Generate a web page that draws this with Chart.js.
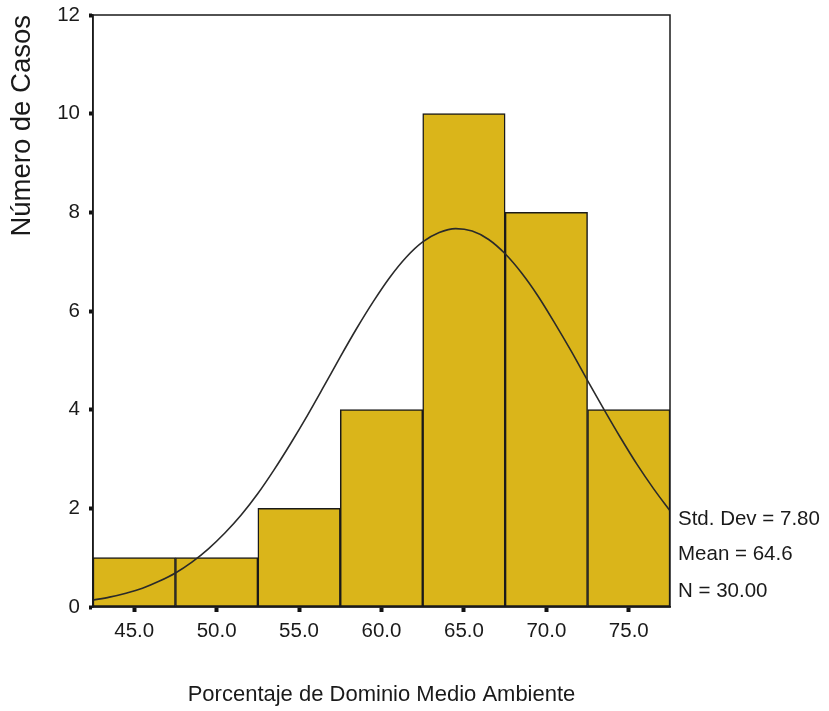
<!DOCTYPE html>
<html lang="es">
<head>
<meta charset="utf-8">
<title>Histograma - Porcentaje de Dominio Medio Ambiente</title>
<script src="https://cdn.jsdelivr.net/npm/chart.js@4.4.1/dist/chart.umd.min.js"></script>
<style>
    html, body { margin: 0; padding: 0; background: #fff; }
    #chart { display: block; }
</style>
</head>
<body>
<canvas id="chart" width="829" height="711"></canvas>
<script>
// datos del histograma (centros de clase y número de casos)
const binCenters = [45, 50, 55, 60, 65, 70, 75];
const binCounts = [1, 1, 2, 4, 10, 8, 4];
const xTickValues = [45, 50, 55, 60, 65, 70, 75];
const xTickLabels = ['45.0', '50.0', '55.0', '60.0', '65.0', '70.0', '75.0'];
const yTickValues = [0, 2, 4, 6, 8, 10, 12];

// curva normal
const curveX = [42.5, 43.5, 44.5, 45.5, 46.5, 47.5, 48.5, 49.5, 50.5, 51.5, 52.5, 53.5,
    54.5, 55.5, 56.5, 57.5, 58.5, 59.5, 60.5, 61.5, 62.5, 63.5, 64.5, 65.5,
    66.5, 67.5, 68.5, 69.5, 70.5, 71.5, 72.5, 73.5, 74.5, 75.5, 76.5, 77.5];
const curveY = [0.14, 0.20, 0.28, 0.38, 0.52, 0.69, 0.91, 1.18, 1.50, 1.87, 2.30, 2.79,
    3.32, 3.88, 4.47, 5.07, 5.65, 6.19, 6.68, 7.09, 7.40, 7.59, 7.67, 7.62,
    7.45, 7.16, 6.77, 6.30, 5.76, 5.19, 4.59, 4.00, 3.43, 2.89, 2.40, 1.95];

const statsLines = ['Std. Dev = 7.80', 'Mean = 64.6', 'N = 30.00'];

const FONT = '"Liberation Sans", Arial, sans-serif';

// marco completo y texto de estadísticas a la derecha
const framePlugin = {
    id: 'frame',
    afterDatasetsDraw(chart) {
        const {ctx, chartArea} = chart;
        ctx.save();
        ctx.strokeStyle = '#1a1a1a';
        ctx.lineWidth = 1.5;
        ctx.strokeRect(chartArea.left, chartArea.top,
            chartArea.right - chartArea.left, chartArea.bottom - chartArea.top);
        ctx.restore();
    },
    afterDraw(chart) {
        const {ctx, chartArea} = chart;
        const offsets = [-82, -47, -10];
        ctx.save();
        ctx.fillStyle = '#1a1a1a';
        ctx.font = '20.5px ' + FONT;
        ctx.textAlign = 'left';
        ctx.textBaseline = 'alphabetic';
        statsLines.forEach((line, i) => {
            ctx.fillText(line, chartArea.right + 8, chartArea.bottom + offsets[i]);
        });
        ctx.restore();
    }
};

document.addEventListener('DOMContentLoaded', function () {
    const ctx = document.getElementById('chart');

    new Chart(ctx, {
        data: {
            datasets: [
                {
                    type: 'line',
                    data: curveX.map((x, i) => ({x: x, y: curveY[i]})),
                    borderColor: '#2a2a2a',
                    borderWidth: 1.6,
                    pointRadius: 0,
                    cubicInterpolationMode: 'monotone',
                    fill: false,
                    order: 0
                },
                {
                    type: 'bar',
                    data: binCenters.map((x, i) => ({x: x, y: binCounts[i]})),
                    backgroundColor: 'rgb(218, 181, 26)',
                    borderColor: '#1a1a1a',
                    borderWidth: 1.5,
                    borderSkipped: false,
                    barPercentage: 1,
                    categoryPercentage: 1,
                    order: 1
                }
            ]
        },
        options: {
            responsive: false,
            animation: false,
            layout: {
                padding: {top: 15, right: 159, left: 0, bottom: 0}
            },
            plugins: {
                legend: {display: false},
                tooltip: {enabled: false}
            },
            scales: {
                x: {
                    type: 'linear',
                    min: 42.5,
                    max: 77.5,
                    offset: false,
                    afterBuildTicks: scale => {
                        scale.ticks = xTickValues.map(v => ({value: v}));
                    },
                    afterFit: scale => {
                        scale.height = 104;
                        scale.paddingLeft = 0;
                        scale.paddingRight = 0;
                    },
                    ticks: {
                        color: '#1a1a1a',
                        font: {family: FONT, size: 20.5},
                        padding: 7,
                        maxRotation: 0,
                        autoSkip: false,
                        callback: (value) => xTickLabels[xTickValues.indexOf(value)]
                    },
                    grid: {
                        offset: false,
                        drawOnChartArea: false,
                        drawTicks: true,
                        tickLength: 5,
                        tickWidth: 4,
                        tickColor: '#111'
                    },
                    border: {display: true, color: '#1a1a1a', width: 1.5},
                    title: {
                        display: true,
                        text: 'Porcentaje de Dominio Medio Ambiente',
                        color: '#1a1a1a',
                        font: {family: FONT, size: 22},
                        padding: {top: 0, bottom: 3}
                    }
                },
                y: {
                    type: 'linear',
                    min: 0,
                    max: 12,
                    afterBuildTicks: scale => {
                        scale.ticks = yTickValues.map(v => ({value: v}));
                    },
                    afterFit: scale => {
                        scale.width = 93;
                        scale.paddingTop = 0;
                        scale.paddingBottom = 0;
                    },
                    ticks: {
                        color: '#1a1a1a',
                        font: {family: FONT, size: 20.5},
                        padding: 9
                    },
                    grid: {
                        offset: false,
                        drawOnChartArea: false,
                        drawTicks: true,
                        tickLength: 4,
                        tickWidth: 4,
                        tickColor: '#111'
                    },
                    border: {display: true, color: '#1a1a1a', width: 1.5},
                    title: {
                        display: true,
                        text: 'Número de Casos',
                        align: 'end',
                        color: '#1a1a1a',
                        font: {family: FONT, size: 27.5},
                        padding: {top: 6, bottom: 0}
                    }
                }
            }
        },
        plugins: [framePlugin]
    });
});
</script>
</body>
</html>
